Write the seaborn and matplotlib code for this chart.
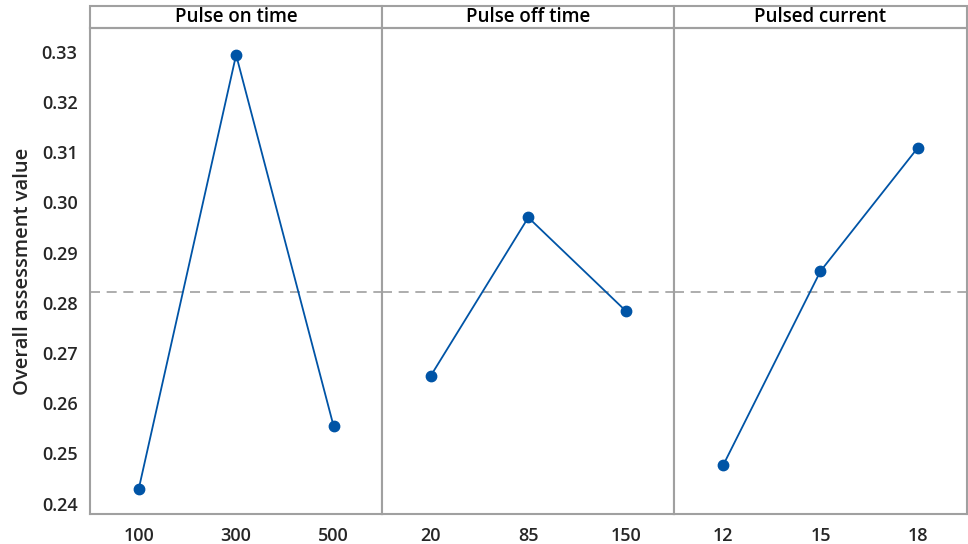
import matplotlib
matplotlib.use('Agg')
import matplotlib.pyplot as plt
import seaborn as sns
import pandas as pd
from matplotlib.patches import Rectangle

# Main effects data
factors = ["Pulse on time", "Pulse off time", "Pulsed current"]
on_levels = ["100", "300", "500"]
on_values = [0.2429, 0.3294, 0.2555]
off_levels = ["20", "85", "150"]
off_values = [0.2655, 0.2970, 0.2784]
cur_levels = ["12", "15", "18"]
cur_values = [0.2476, 0.2863, 0.3109]
overall_mean = 0.2822

LINE_COLOR = "#0054a6"
FRAME_COLOR = "#a0a0a0"

sns.set_theme(style="white")
plt.rcParams['font.family'] = ['Open Sans', 'DejaVu Sans']

rows = []
for name, levels, vals in [(factors[0], on_levels, on_values),
                           (factors[1], off_levels, off_values),
                           (factors[2], cur_levels, cur_values)]:
    for lv, v in zip(levels, vals):
        rows.append({"factor": name, "level": lv, "value": v})
df = pd.DataFrame(rows)

fig, axes = plt.subplots(1, 3, figsize=(9.68, 5.44), dpi=100, sharey=True,
                         gridspec_kw={"wspace": 0})
fig.subplots_adjust(left=0.093, right=0.9985, bottom=0.055, top=0.948)

for ax, name in zip(axes, factors):
    sub = df[df["factor"] == name]
    sns.pointplot(x="level", y="value", data=sub, ax=ax, color=LINE_COLOR,
                  order=list(sub["level"]), markersize=7.5, linewidth=1.3)
    ax.axhline(overall_mean, color=FRAME_COLOR, linestyle=(0, (6, 4)), linewidth=1.2, zorder=0)
    ax.set_xlim(-0.5, 2.5)
    ax.set_xlabel("")
    ax.set_ylabel("")
    for sp in ax.spines.values():
        sp.set_color(FRAME_COLOR)
        sp.set_linewidth(1.5)
    ax.tick_params(axis="both", direction="out", length=5, width=1.2,
                   color=FRAME_COLOR, labelsize=13, pad=4)
    for lab in ax.get_xticklabels():
        lab.set_fontweight("semibold")
    # strip header on top of each panel
    strip_h = 0.045
    ax.add_patch(Rectangle((0, 1), 1, strip_h, transform=ax.transAxes,
                           facecolor="white", edgecolor=FRAME_COLOR,
                           linewidth=1.5, clip_on=False))
    ax.text(0.5, 1 + strip_h / 2, name, transform=ax.transAxes, ha="center",
            va="center", fontsize=13.5, fontweight="semibold", color="black")

axes[0].set_ylim(0.2379, 0.3347)
axes[0].set_yticks([0.24, 0.25, 0.26, 0.27, 0.28, 0.29, 0.30, 0.31, 0.32, 0.33])
axes[0].set_yticklabels([f"{t:.2f}" for t in axes[0].get_yticks()], fontweight="semibold")
for ax in axes[1:]:
    ax.tick_params(axis="y", left=False)
axes[0].set_ylabel("Overall assessment value", fontsize=14.5, fontweight="semibold", labelpad=6)

plt.savefig("out.png", dpi=100)
plt.close()
